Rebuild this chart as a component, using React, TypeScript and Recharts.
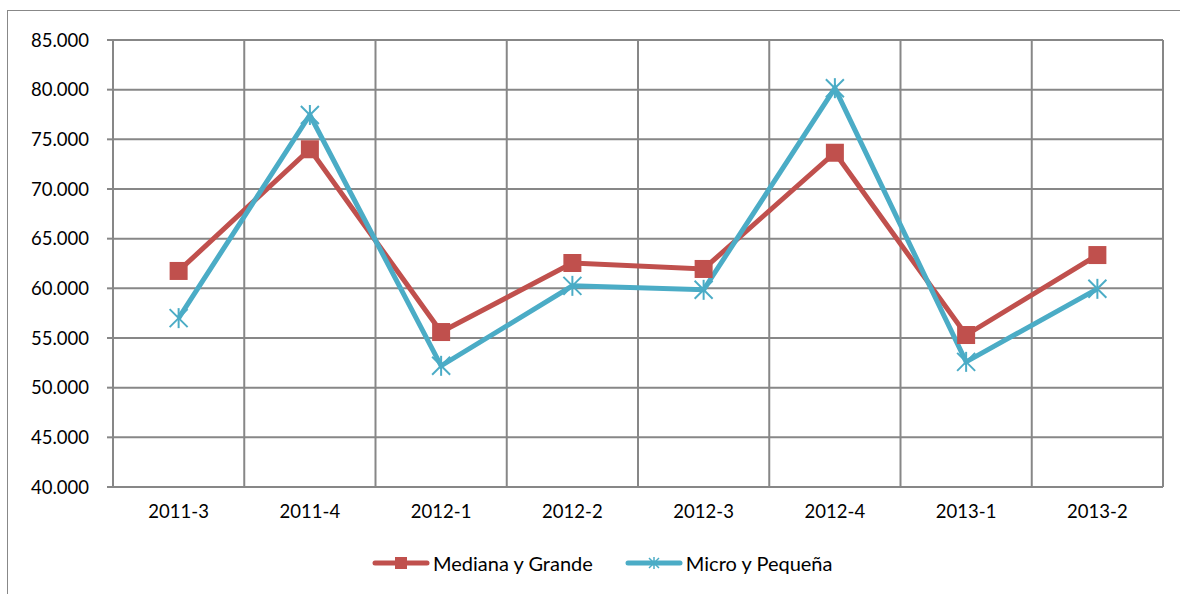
import { LineChart, Line, XAxis, YAxis, CartesianGrid } from "recharts";

const periods = ["2011-3", "2011-4", "2012-1", "2012-2", "2012-3", "2012-4", "2013-1", "2013-2"];
const medianaGrande = [61750, 74000, 55600, 62550, 61950, 73650, 55300, 63350];
const microPequena = [57000, 77450, 52200, 60250, 59850, 80150, 52600, 59950];
const yTicks = [40000, 45000, 50000, 55000, 60000, 65000, 70000, 75000, 80000, 85000];
const edgeTicks = [0, 1, 2, 3, 4, 5, 6, 7, 8];

const RED = "#C0504D";
const BLUE = "#4BACC6";
const GRID = "#878787";
const FONT = "Lato, 'Open Sans', sans-serif";

const data = periods.map((p, i) => ({
  period: p,
  mediana: medianaGrande[i],
  micro: microPequena[i],
}));

const fmt = (v: number) => (v / 1000).toFixed(3);

// vertical grid lines sit on the category boundaries, like Excel
const boundaryLines = ({ offset }: any) =>
  edgeTicks.map((i) => offset.left + (i * offset.width) / periods.length);

function SquareDot(props: any) {
  const { cx, cy, index } = props;
  if (cx == null || cy == null) return null;
  return <rect key={`sq-${index}`} x={cx - 9} y={cy - 9} width={18} height={18} fill={RED} />;
}

function StarDot(props: any) {
  const { cx, cy, index } = props;
  if (cx == null || cy == null) return null;
  const r = 9;
  return (
    <g key={`st-${index}`} stroke={BLUE} strokeWidth={2}>
      <line x1={cx - r} y1={cy - r} x2={cx + r} y2={cy + r} />
      <line x1={cx - r} y1={cy + r} x2={cx + r} y2={cy - r} />
      <line x1={cx} y1={cy - r - 1} x2={cx} y2={cy + r + 1} />
    </g>
  );
}

function LegendItem({ color, label, star }: { color: string; label: string; star?: boolean }) {
  return (
    <div style={{ display: "flex", alignItems: "center" }}>
      <svg width={58} height={14} style={{ marginRight: 3 }}>
        <line x1={3} y1={7} x2={55} y2={7} stroke={color} strokeWidth={5} strokeLinecap="round" />
        {star ? (
          <g stroke={color} strokeWidth={1.5}>
            <line x1={24} y1={2} x2={34} y2={12} />
            <line x1={24} y1={12} x2={34} y2={2} />
            <line x1={29} y1={1} x2={29} y2={13} />
          </g>
        ) : (
          <rect x={23} y={1} width={12} height={12} fill={color} />
        )}
      </svg>
      <span>{label}</span>
    </div>
  );
}

export default function App() {
  return (
    <div style={{ position: "absolute", left: 0, top: 0, width: 1180, height: 594, overflow: "hidden", background: "#fff" }}>
      <div
        style={{
          position: "absolute",
          left: 7,
          top: 10,
          width: 1200,
          height: 620,
          border: "1.5px solid #888",
          boxSizing: "border-box",
        }}
      />
      <div style={{ position: "absolute", left: 0, top: 0 }}>
        <LineChart width={1180} height={594} data={data} margin={{ top: 40, right: 17, bottom: 67, left: 0 }}>
          <CartesianGrid stroke={GRID} strokeWidth={2} verticalCoordinatesGenerator={boundaryLines} />
          <XAxis
            xAxisId="edge"
            type="number"
            domain={[0, 8]}
            ticks={edgeTicks}
            height={0}
            tick={false}
            tickSize={6}
            tickLine={{ stroke: GRID, strokeWidth: 2 }}
            axisLine={{ stroke: GRID, strokeWidth: 2 }}
          />
          <XAxis
            xAxisId="cat"
            dataKey="period"
            scale="band"
            height={40}
            axisLine={false}
            tickLine={false}
            tickMargin={12}
            interval={0}
            tick={{ fontSize: 18.5, fill: "#000", fontFamily: FONT }}
          />
          <YAxis
            domain={[40000, 85000]}
            ticks={yTicks}
            width={113}
            interval={0}
            tickFormatter={fmt}
            tickSize={6}
            tickMargin={18}
            tickLine={{ stroke: GRID, strokeWidth: 2 }}
            axisLine={{ stroke: GRID, strokeWidth: 2 }}
            tick={{ fontSize: 18.5, fill: "#000", fontFamily: FONT }}
          />
          <Line
            xAxisId="cat"
            dataKey="mediana"
            stroke={RED}
            strokeWidth={5}
            dot={SquareDot}
            activeDot={false}
            isAnimationActive={false}
          />
          <Line
            xAxisId="cat"
            dataKey="micro"
            stroke={BLUE}
            strokeWidth={5}
            dot={StarDot}
            activeDot={false}
            isAnimationActive={false}
          />
        </LineChart>
      </div>
      <div
        style={{
          position: "absolute",
          left: 372,
          top: 550,
          display: "flex",
          gap: 32,
          fontFamily: FONT,
          fontSize: 20,
          color: "#000",
          lineHeight: "26px",
        }}
      >
        <LegendItem color={RED} label="Mediana y Grande" />
        <LegendItem color={BLUE} label="Micro y Pequeña" star />
      </div>
    </div>
  );
}
